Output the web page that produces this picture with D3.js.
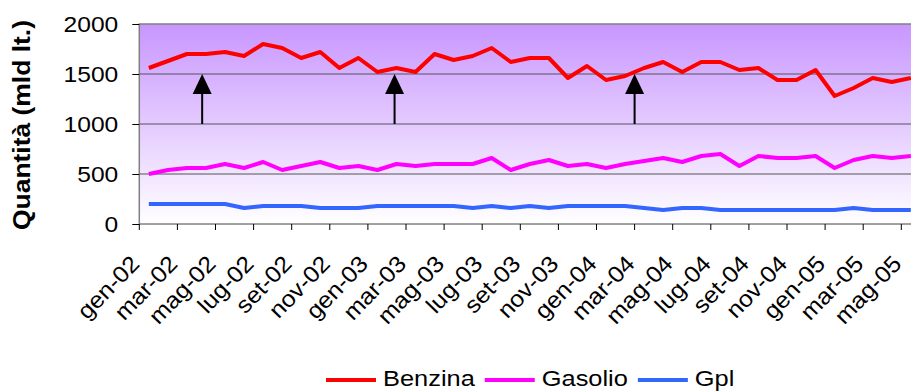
<!DOCTYPE html>
<html>
<head>
<meta charset="utf-8">
<script src="https://cdn.jsdelivr.net/npm/d3@7"></script>
<style>
  html, body { margin: 0; padding: 0; background: #fff; overflow: hidden; }
  svg { display: block; font-family: "Liberation Sans", Arial, sans-serif; }
</style>
</head>
<body>
<svg id="chart" width="911" height="391"></svg>
<script>
// Monthly categories, Jan 2002 – May 2005
const categories = [
  "gen-02","feb-02","mar-02","apr-02","mag-02","giu-02","lug-02","ago-02","set-02","ott-02","nov-02","dic-02",
  "gen-03","feb-03","mar-03","apr-03","mag-03","giu-03","lug-03","ago-03","set-03","ott-03","nov-03","dic-03",
  "gen-04","feb-04","mar-04","apr-04","mag-04","giu-04","lug-04","ago-04","set-04","ott-04","nov-04","dic-04",
  "gen-05","feb-05","mar-05","apr-05","mag-05"
];

// Quantities (mld lt.)
const benzina = [1560,1630,1700,1700,1720,1680,1800,1760,1660,1720,1560,1660,
                 1520,1560,1520,1700,1640,1680,1760,1620,1660,1660,1460,1580,
                 1440,1480,1560,1620,1520,1620,1620,1540,1560,1440,1440,1540,
                 1280,1360,1460,1420,1460];
const gasolio = [500,540,560,560,600,560,620,540,580,620,560,580,
                 540,600,580,600,600,600,660,540,600,640,580,600,
                 560,600,630,660,620,680,700,580,680,660,660,680,
                 560,640,680,660,680];
const gpl     = [200,200,200,200,200,160,180,180,180,160,160,160,
                 180,180,180,180,180,160,180,160,180,160,180,180,
                 180,180,160,140,160,160,140,140,140,140,140,140,
                 140,160,140,140,140];

const seriesNames = ["Benzina", "Gasolio", "Gpl"];
const yTicks = [0, 500, 1000, 1500, 2000];

// Arrow annotations: position in month index, from / to value
const arrowAt = [2.8, 12.9, 25.5];
const arrowFrom = 1000;
const arrowTo = 1500;

const colors = { "Benzina": "#ff0000", "Gasolio": "#ff00ff", "Gpl": "#3366ff" };
const seriesValues = { "Benzina": benzina, "Gasolio": gasolio, "Gpl": gpl };

const svg = d3.select("#chart");
const stretch = 1.12;   // wide text rendering

const plotLeft = 139.3, plotTop = 24, plotBottom = 224;
const step = 19.05;
const plotRight = plotLeft + step * categories.length;

const x = d3.scaleBand().domain(categories).range([plotLeft, plotRight]).padding(0);
const cx = c => x(c) + x.bandwidth() / 2;
const xi = d3.scaleLinear().domain([0, categories.length - 1])
  .range([cx(categories[0]), cx(categories[categories.length - 1])]);
const y = d3.scaleLinear().domain([0, 2000]).range([plotBottom, plotTop]);

// Plot background gradient
const defs = svg.append("defs");
const grad = defs.append("linearGradient").attr("id", "bg")
  .attr("x1", 0).attr("y1", 0).attr("x2", 0).attr("y2", 1);
grad.append("stop").attr("offset", "0%").attr("stop-color", "#c896ff");
grad.append("stop").attr("offset", "100%").attr("stop-color", "#ffffff");

svg.append("rect")
  .attr("x", plotLeft).attr("y", plotTop)
  .attr("width", plotRight - plotLeft).attr("height", plotBottom - plotTop)
  .attr("fill", "url(#bg)");

// Gridlines
svg.append("g").selectAll("line")
  .data(yTicks.filter(v => v > 0 && v < 2000))
  .join("line")
  .attr("x1", plotLeft).attr("x2", plotRight)
  .attr("y1", d => y(d)).attr("y2", d => y(d))
  .attr("stroke", "#555").attr("stroke-width", 1);

// Plot border
svg.append("rect")
  .attr("x", plotLeft).attr("y", plotTop)
  .attr("width", plotRight - plotLeft).attr("height", plotBottom - plotTop)
  .attr("fill", "none").attr("stroke", "#808080").attr("stroke-width", 1.5);

// Y axis
const yAxis = svg.append("g")
  .attr("transform", `translate(${plotLeft},0)`)
  .call(d3.axisLeft(y).tickValues(yTicks).tickFormat(d3.format("d")).tickSize(7).tickPadding(14));
yAxis.select(".domain").remove();
yAxis.selectAll(".tick line").attr("stroke", "#000");
yAxis.selectAll(".tick text")
  .attr("x", null).attr("dy", "0.35em")
  .attr("transform", `translate(-21,0) scale(${stretch},1)`)
  .attr("font-size", 22).attr("font-family", "Liberation Sans, Arial, sans-serif")
  .attr("fill", "#000");

// X axis: ticks between month pairs, labels every other month
const xAxis = svg.append("g")
  .attr("transform", `translate(0,${plotBottom})`)
  .call(d3.axisBottom(x)
    .tickValues(categories.filter((d, i) => i % 2 === 0))
    .tickSize(6));
xAxis.select(".domain").remove();
xAxis.selectAll(".tick line")
  .attr("x1", -x.bandwidth() / 2).attr("x2", -x.bandwidth() / 2)
  .attr("stroke", "#000");
xAxis.selectAll(".tick text")
  .attr("y", null).attr("dy", null)
  .attr("text-anchor", "end")
  .attr("transform", `translate(-8,41) rotate(-46) scale(1.08,1)`)
  .attr("font-size", 23).attr("font-family", "Liberation Sans, Arial, sans-serif")
  .attr("fill", "#000");

// Series lines
const line = d3.line()
  .x((d, i) => cx(categories[i]))
  .y(d => y(d));

svg.append("g").selectAll("path")
  .data(seriesNames.slice().reverse())
  .join("path")
  .attr("d", name => line(seriesValues[name]))
  .attr("fill", "none")
  .attr("stroke", name => colors[name])
  .attr("stroke-width", 4)
  .attr("stroke-linejoin", "round");

// Arrows
const headLen = 20, headHalf = 9.5;
const arrows = svg.append("g").selectAll("g").data(arrowAt).join("g");
arrows.append("line")
  .attr("x1", d => xi(d)).attr("x2", d => xi(d))
  .attr("y1", y(arrowFrom)).attr("y2", y(arrowTo) + headLen)
  .attr("stroke", "#000").attr("stroke-width", 2);
arrows.append("path")
  .attr("d", d => {
    const px = xi(d), tip = y(arrowTo);
    return `M${px},${tip}L${px + headHalf},${tip + headLen}L${px - headHalf},${tip + headLen}Z`;
  })
  .attr("fill", "#000");

// Y axis title
svg.append("text")
  .attr("transform", `translate(30,125) rotate(-90) scale(1.15,1)`)
  .attr("text-anchor", "middle")
  .attr("font-size", 23).attr("font-weight", "bold")
  .attr("fill", "#000")
  .text("Quantità (mld lt.)");

// Legend
const legend = svg.append("g").attr("transform", "translate(326,380)");
let lx = 0;
seriesNames.forEach(name => {
  const g = legend.append("g").attr("transform", `translate(${lx},0)`);
  g.append("line").attr("x1", 0).attr("x2", 50).attr("y1", 0).attr("y2", 0)
    .attr("stroke", colors[name]).attr("stroke-width", 4);
  const t = g.append("text")
    .attr("transform", `translate(57,6) scale(1.155,1)`)
    .attr("font-size", 22).attr("fill", "#000")
    .text(name);
  const w = t.node().getComputedTextLength() * 1.155;
  lx += 57 + w + 10;
});
</script>
</body>
</html>
